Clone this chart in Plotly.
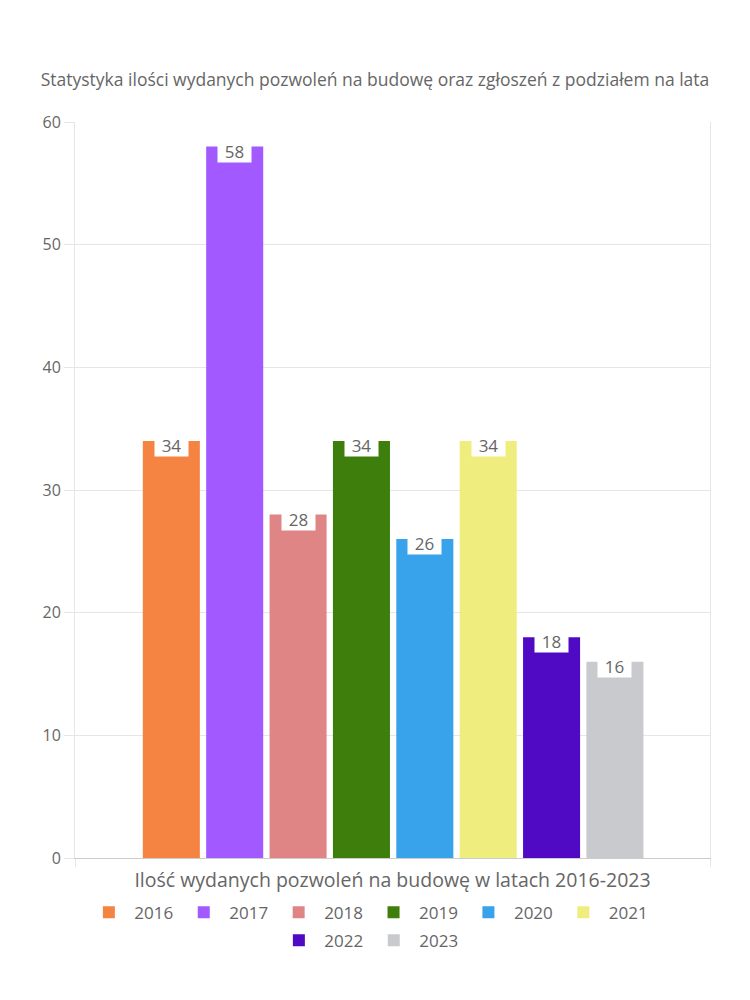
import plotly.graph_objects as go

years = ["2016", "2017", "2018", "2019", "2020", "2021", "2022", "2023"]
values = [34, 58, 28, 34, 26, 34, 18, 16]
colors = ["#F58442", "#A259FF", "#E08585", "#3E7E0C", "#38A3EA", "#F0ED7F", "#510AC4", "#C9CACE"]
legend_rows = ["legend", "legend", "legend", "legend", "legend", "legend", "legend2", "legend2"]

title_text = "Statystyka ilości wydanych pozwoleń na budowę oraz zgłoszeń z podziałem na lata"
xaxis_title = "Ilość wydanych pozwoleń na budowę w latach 2016-2023"
y_ticks = [0, 10, 20, 30, 40, 50, 60]
x_range = [-1.52, 8.5]

FONT = "'Open Sans', Lato, sans-serif"
TXT = "#666666"

fig = go.Figure()
for i, (yr, v, c, lg) in enumerate(zip(years, values, colors, legend_rows)):
    fig.add_trace(go.Bar(
        x=[i], y=[v], name=yr, width=0.9, legend=lg,
        marker=dict(color=c, line=dict(width=0)),
        hoverinfo="name+y",
    ))
    fig.add_annotation(
        x=i, y=v, xref="x", yref="y", text=str(v),
        showarrow=False, yanchor="top", yshift=9,
        width=31, height=21, valign="top", borderpad=1,
        bgcolor="white", font=dict(family=FONT, size=17, color=TXT),
    )

legend_common = dict(orientation="h", x=0.462, xanchor="center", yanchor="top",
                     font=dict(family=FONT, size=17, color=TXT), traceorder="normal",
                     itemwidth=41)

fig.update_layout(
    width=750, height=1000,
    paper_bgcolor="white", plot_bgcolor="white",
    barmode="overlay",
    margin=dict(l=67, r=48, t=114, b=150),
    font=dict(family=FONT, size=16, color=TXT),
    title=dict(text=title_text, x=0.4893, xanchor="center", y=0.928, yanchor="middle",
               font=dict(family=FONT, size=17.5, color=TXT)),
    showlegend=True,
    legend=dict(y=-0.05, **legend_common),
    legend2=dict(y=-0.088, **legend_common),
    xaxis=dict(range=x_range, tickvals=x_range, ticktext=["", ""], showgrid=False, zeroline=False,
               ticks="outside", ticklen=8, tickcolor="#e6e6e6",
               showline=True, linecolor="#cccccc", linewidth=1,
               title=dict(text=xaxis_title, standoff=4, font=dict(family=FONT, size=19.5, color=TXT))),
    yaxis=dict(range=[0, 60], tickvals=y_ticks, showgrid=True, gridcolor="#e6e6e6",
               zeroline=False, showline=True, linecolor="#e6e6e6", mirror=True,
               ticks="outside", ticklen=10, tickcolor="#e6e6e6",
               tickfont=dict(family=FONT, size=16, color=TXT)),
)

fig.write_html("out.html")
